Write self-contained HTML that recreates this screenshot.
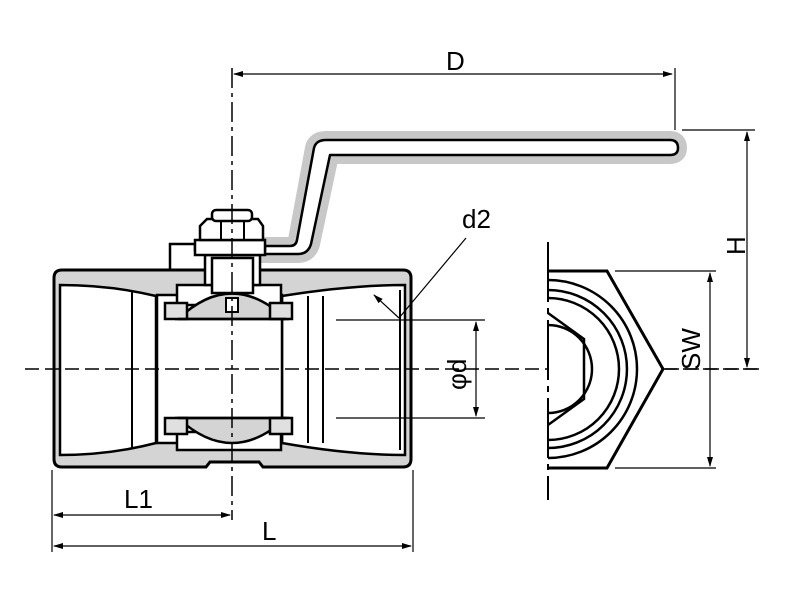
<!DOCTYPE html>
<html><head><style>body{margin:0;background:#fff}svg{display:block}text{font-family:"Liberation Sans",sans-serif;font-size:26px;fill:#000}</style></head>
<body>
<svg width="800" height="600" viewBox="0 0 800 600" xmlns="http://www.w3.org/2000/svg">
<defs>
<marker id="a" markerWidth="10" markerHeight="8" refX="9" refY="4" orient="auto-start-reverse" markerUnits="userSpaceOnUse"><path d="M0,1 L10,4 L0,7 z" fill="#000"/></marker>
</defs>
<!-- handle -->
<path d="M258,246 L290,246 Q296,246 297,240 L314,148 Q316,140 326,140 L670,140 Q678,140 678,148 Q678,155 670,155 L330,155 L311,244 Q308,254 298,254 L258,254" fill="none" stroke="#c8c8c8" stroke-width="18" stroke-linejoin="round"/>
<path d="M258,246 L290,246 Q296,246 297,240 L314,148 Q316,140 326,140 L670,140 Q678,140 678,148 Q678,155 670,155 L330,155 L311,244 Q308,254 298,254 L258,254" fill="#fff" stroke="#000" stroke-width="2.5" stroke-linejoin="round"/>
<!-- body -->
<path d="M62,270 L403,270 Q411,270 411,278 L411,459 Q411,467 403,467 L263,467 L259,462 L210,462 L206,467 L62,467 Q54,467 54,459 L54,278 Q54,270 62,270 Z" fill="#d4d4d4" stroke="#000" stroke-width="3"/>
<!-- left bore -->
<path d="M60,285 Q110,285 156,296 L156,443 Q110,455 60,455 Z" fill="#fff" stroke="#000" stroke-width="2.5"/>
<line x1="132" y1="291" x2="132" y2="449" stroke="#000" stroke-width="2"/>
<!-- right bore -->
<path d="M405,285 Q350,285 282,296 L282,443 Q350,455 405,455 Z" fill="#fff" stroke="#000" stroke-width="2.5"/>
<line x1="308" y1="296" x2="308" y2="443" stroke="#000" stroke-width="2"/>
<line x1="323" y1="296" x2="323" y2="443" stroke="#000" stroke-width="2"/>
<line x1="400" y1="290" x2="400" y2="450" stroke="#000" stroke-width="2"/>
<!-- center cavity -->
<rect x="157" y="295" width="125" height="148" fill="#fff" stroke="#000" stroke-width="2.5"/>
<rect x="177" y="285" width="104" height="20" fill="#fff" stroke="#000" stroke-width="2.5"/>
<rect x="177" y="432" width="104" height="18" fill="#fff" stroke="#000" stroke-width="2.5"/>
<path d="M178,319 Q232,268 286,319 Z" fill="#d4d4d4" stroke="#000" stroke-width="2.5"/>
<path d="M178,418 Q232,468 286,418 Z" fill="#d4d4d4" stroke="#000" stroke-width="2.5"/>
<rect x="165" y="303" width="22" height="16" fill="#e0e0e0" stroke="#000" stroke-width="2.5"/>
<rect x="270" y="303" width="22" height="16" fill="#e0e0e0" stroke="#000" stroke-width="2.5"/>
<rect x="165" y="418" width="22" height="16" fill="#e0e0e0" stroke="#000" stroke-width="2.5"/>
<rect x="270" y="418" width="22" height="16" fill="#e0e0e0" stroke="#000" stroke-width="2.5"/>
<line x1="178" y1="319" x2="286" y2="319" stroke="#000" stroke-width="2.5"/>
<line x1="178" y1="418" x2="286" y2="418" stroke="#000" stroke-width="2.5"/>
<!-- stem / nut -->
<rect x="205" y="255" width="55" height="30" fill="#fff" stroke="#000" stroke-width="2.5"/>
<rect x="212" y="258" width="41" height="35" fill="#fff" stroke="#000" stroke-width="2.5"/>
<rect x="226" y="298" width="12" height="14" fill="#fff" stroke="#000" stroke-width="2"/>
<path d="M170,270 L170,244 L195,244 L195,250 L265,250 L265,244" fill="none" stroke="#000" stroke-width="2.5"/>
<rect x="195" y="240" width="70" height="15" fill="#fff" stroke="#000" stroke-width="2.5"/>
<path d="M200,240 L200,226 L207,219 L258,219 L263,226 L263,240 Z" fill="#fff" stroke="#000" stroke-width="2.5"/>
<line x1="221" y1="222" x2="221" y2="240" stroke="#000" stroke-width="2"/>
<line x1="244" y1="222" x2="244" y2="240" stroke="#000" stroke-width="2"/>
<rect x="212" y="210" width="40" height="11" rx="4" fill="#fff" stroke="#000" stroke-width="2.5"/>
<!-- centerlines -->
<line x1="25" y1="369" x2="760" y2="369" stroke="#000" stroke-width="1.5" stroke-dasharray="14,6"/>
<line x1="232" y1="68" x2="232" y2="520" stroke="#000" stroke-width="1.5" stroke-dasharray="20,5,4,5"/>
<!-- right view -->
<line x1="548" y1="242" x2="548" y2="500" stroke="#000" stroke-width="2" stroke-dasharray="60,6,6,6"/>
<path d="M548,271 L607,271 L663,369 L607,468 L548,468" fill="#fff" stroke="#000" stroke-width="3"/>
<path d="M548,280 A89,89 0 0 1 548,458" fill="none" stroke="#000" stroke-width="2.5"/>
<path d="M548,290 A79,79 0 0 1 548,448" fill="none" stroke="#000" stroke-width="2.5"/>
<path d="M548,298 A71,71 0 0 1 548,440" fill="none" stroke="#000" stroke-width="2.5"/>
<path d="M548,313 L584,339 L584,399 L548,425" fill="none" stroke="#000" stroke-width="2.5"/>
<path d="M548,325 A44,44 0 0 1 548,413" fill="none" stroke="#000" stroke-width="2.5"/>
<line x1="548" y1="242" x2="548" y2="500" stroke="#000" stroke-width="2" stroke-dasharray="60,6,6,6"/>
<line x1="663" y1="369" x2="760" y2="369" stroke="#000" stroke-width="1.5" stroke-dasharray="14,6"/>
<!-- dimensions -->
<line x1="234" y1="74" x2="672" y2="74" stroke="#000" stroke-width="1.2" marker-start="url(#a)" marker-end="url(#a)"/>
<line x1="675" y1="68" x2="675" y2="130" stroke="#000" stroke-width="1.2"/>
<text x="446" y="70">D</text>
<line x1="682" y1="130" x2="755" y2="130" stroke="#000" stroke-width="1.2"/>
<line x1="747" y1="132" x2="747" y2="367" stroke="#000" stroke-width="1.2" marker-start="url(#a)" marker-end="url(#a)"/>
<text transform="translate(745,255) rotate(-90)">H</text>
<line x1="615" y1="271" x2="716" y2="271" stroke="#000" stroke-width="1.2"/>
<line x1="615" y1="468" x2="716" y2="468" stroke="#000" stroke-width="1.2"/>
<line x1="710" y1="273" x2="710" y2="466" stroke="#000" stroke-width="1.2" marker-start="url(#a)" marker-end="url(#a)"/>
<text transform="translate(700,370) rotate(-90)">SW</text>
<line x1="336" y1="320" x2="485" y2="320" stroke="#000" stroke-width="1.2"/>
<line x1="336" y1="418" x2="485" y2="418" stroke="#000" stroke-width="1.2"/>
<line x1="476" y1="322" x2="476" y2="416" stroke="#000" stroke-width="1.2" marker-start="url(#a)" marker-end="url(#a)"/>
<text transform="translate(466,390) rotate(-90)">φd</text>
<text x="462" y="228">d2</text>
<line x1="466" y1="238" x2="399" y2="318" stroke="#000" stroke-width="1.2"/>
<line x1="399" y1="318" x2="374" y2="295" stroke="#000" stroke-width="1.2" marker-end="url(#a)"/>
<line x1="52" y1="470" x2="52" y2="552" stroke="#000" stroke-width="1.2"/>
<line x1="413" y1="470" x2="413" y2="552" stroke="#000" stroke-width="1.2"/>
<line x1="54" y1="515" x2="230" y2="515" stroke="#000" stroke-width="1.2" marker-start="url(#a)" marker-end="url(#a)"/>
<text x="124" y="508">L1</text>
<line x1="54" y1="546" x2="411" y2="546" stroke="#000" stroke-width="1.2" marker-start="url(#a)" marker-end="url(#a)"/>
<text x="262" y="540">L</text>
</svg>
</body></html>
